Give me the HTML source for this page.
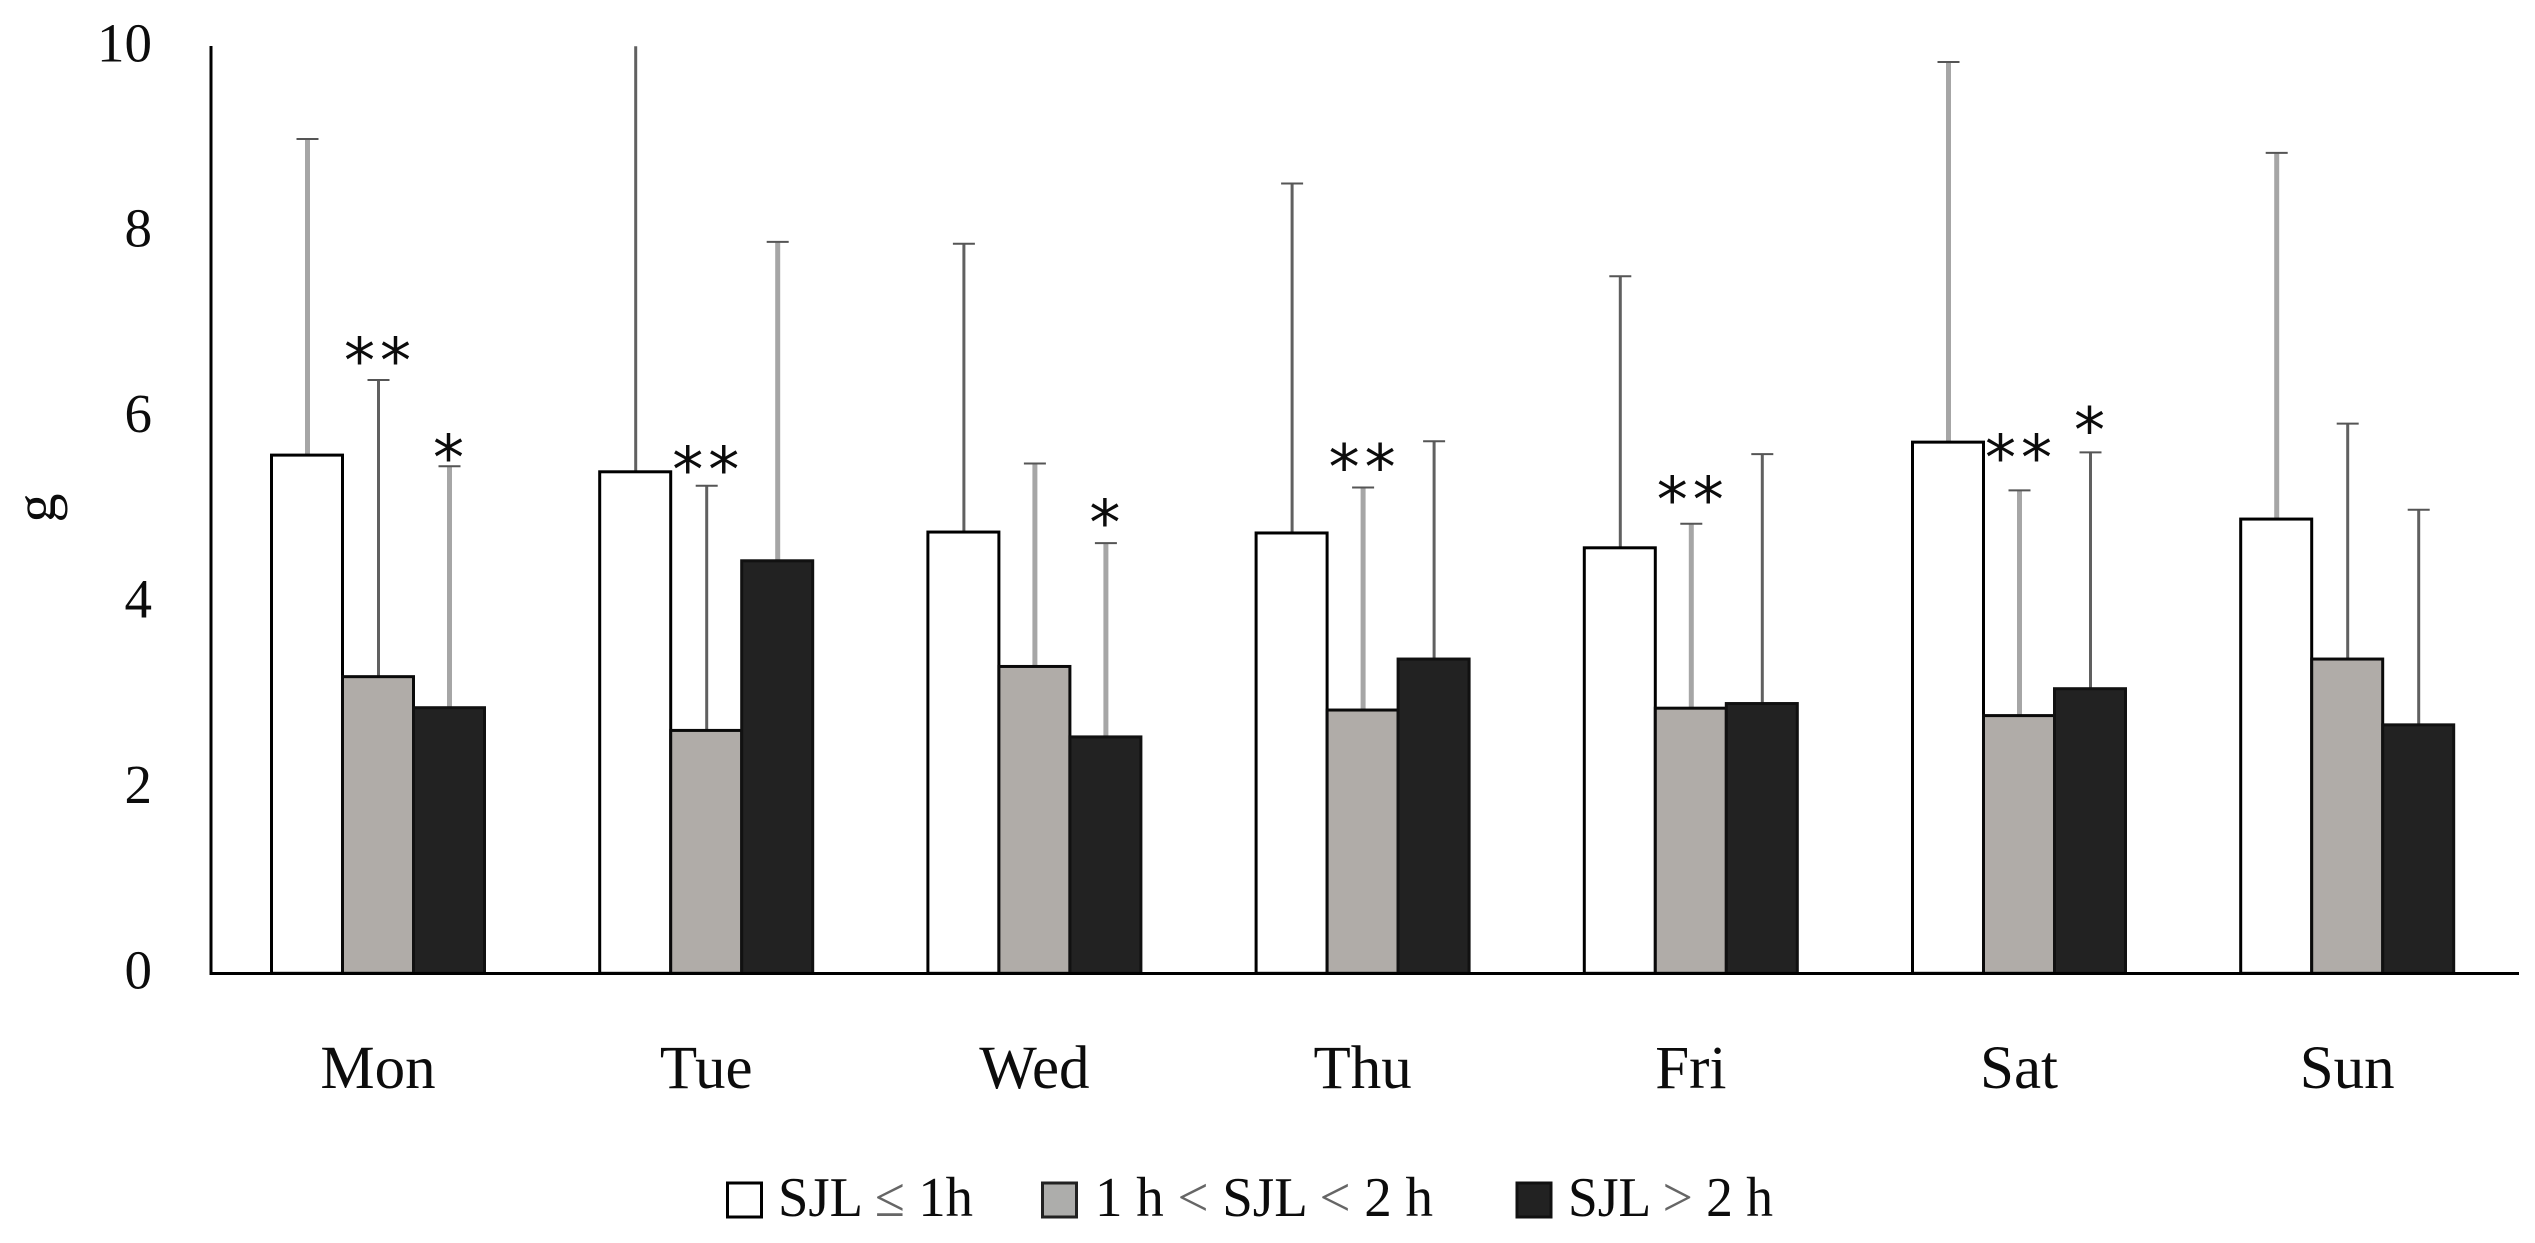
<!DOCTYPE html>
<html lang="en">
<head>
<meta charset="utf-8">
<title>SJL chart</title>
<style>
  html, body { margin: 0; padding: 0; background: #fff; }
  svg { display: block; }
  text { font-family: "Liberation Serif", serif; fill: #0c0c0c; }
</style>
</head>
<body>
<svg id="chart" xmlns="http://www.w3.org/2000/svg" width="2535" height="1243" viewBox="0 0 2535 1243">
  <rect x="0" y="0" width="2535" height="1243" fill="#ffffff"/>
  <g id="y-ticks"></g>
  <text transform="translate(55 508) rotate(-90)" text-anchor="middle" font-size="58">g</text>
  <g id="whiskers"></g>
  <g id="bars"></g>
  <g id="stars"></g>
  <g id="x-labels"></g>
  <line x1="211" y1="46" x2="211" y2="974.5" stroke="#000" stroke-width="3"/>
  <line x1="209.5" y1="973.5" x2="2519" y2="973.5" stroke="#000" stroke-width="3"/>
  <g>
    <g>
      <rect x="727.5" y="1183" width="34" height="34" fill="#fff" stroke="#000" stroke-width="3"/>
      <text x="778" y="1216" font-size="56" textLength="195" lengthAdjust="spacingAndGlyphs">SJL <tspan fill="#666">≤</tspan> 1h</text>
    </g>
    <g>
      <rect x="1042.5" y="1183" width="34" height="34" fill="#adadab" stroke="#222" stroke-width="3"/>
      <text x="1095" y="1216" font-size="56" textLength="338" lengthAdjust="spacingAndGlyphs">1 h <tspan fill="#666">&lt;</tspan> SJL <tspan fill="#666">&lt;</tspan> 2 h</text>
    </g>
    <g>
      <rect x="1517" y="1183" width="34" height="34" fill="#222" stroke="#111" stroke-width="3"/>
      <text x="1568" y="1216" font-size="56" textLength="205" lengthAdjust="spacingAndGlyphs">SJL <tspan fill="#666">&gt;</tspan> 2 h</text>
    </g>
  </g>
</svg>
<script>
const categories = ["Mon", "Tue", "Wed", "Thu", "Fri", "Sat", "Sun"];
const yTicks = [0, 2, 4, 6, 8, 10];
const lowMeans  = [5.59, 5.41, 4.76, 4.75, 4.59, 5.73, 4.90];
const midMeans  = [3.20, 2.62, 3.31, 2.84, 2.86, 2.78, 3.39];
const highMeans = [2.865, 4.45, 2.55, 3.39, 2.91, 3.07, 2.68];
const lowUpper  = [9.00, 10.00, 7.87, 8.52, 7.52, 9.83, 8.85];
const midUpper  = [6.40, 5.26, 5.50, 5.24, 4.85, 5.21, 5.93];
const highUpper = [5.47, 7.89, 4.64, 5.74, 5.60, 5.62, 5.00];
const sigCategory = ["Mon", "Mon", "Tue", "Wed", "Thu", "Fri", "Sat", "Sat"];
const sigSeries   = [1, 2, 1, 2, 1, 1, 1, 2];
const sigLabel    = ["**", "*", "**", "*", "**", "**", "**", "*"];
const sigLevel    = [6.72, 5.67, 5.54, 4.97, 5.57, 5.22, 5.67, 5.97];
const paleWhiskers = ["0-0", "0-2", "1-2", "2-1", "2-2", "3-1", "4-1", "5-0", "5-1", "6-0"];

const means = [lowMeans, midMeans, highMeans];
const uppers = [lowUpper, midUpper, highUpper];
const fills = ["#ffffff", "#b0aca8", "#222222"];
const strokes = ["#000", "#0a0a0a", "#111"];
const NS = "http://www.w3.org/2000/svg";
const yScale = v => 973.3 - v * 92.7;
const xGroup = i => 378 + 328.2 * i;
const xBar = (i, s) => xGroup(i) + (s - 1) * 71;
const barWidth = 71;

function make(tag, parent, attrs) {
  const el = document.createElementNS(NS, tag);
  for (const k in attrs) el.setAttribute(k, attrs[k]);
  parent.appendChild(el);
  return el;
}

const tickGroup = document.getElementById("y-ticks");
yTicks.forEach(v => {
  const t = make("text", tickGroup, { x: 152, y: yScale(v) + 15, "text-anchor": "end", "font-size": 55 });
  
  
  t.textContent = v;
});

const labelGroup = document.getElementById("x-labels");
categories.forEach((c, i) => {
  const t = make("text", labelGroup, { x: xGroup(i), y: 1088, "text-anchor": "middle", "font-size": 61 });
  
  
  t.textContent = c;
});

const whiskerGroup = document.getElementById("whiskers");
const barGroup = document.getElementById("bars");
categories.forEach((c, i) => {
  means.forEach((series, s) => {
    const top = yScale(series[i]);
    const x = xBar(i, s);
    const bar = make("rect", barGroup, {
      x: x - barWidth / 2, y: top, width: barWidth, height: yScale(0) - top,
      fill: fills[s], stroke: strokes[s], "stroke-width": 3
    });
    
    

    const pale = paleWhiskers.includes(i + "-" + s);
    const capY = yScale(uppers[s][i]);
    const stem = make("line", whiskerGroup, {
      x1: x + 0.5, x2: x + 0.5, y1: top, y2: capY,
      stroke: pale ? "#a6a6a6" : "#606060", "stroke-width": pale ? 5 : 3
    });
    
    
    if (uppers[s][i] < 10) {
      const cap = make("line", whiskerGroup, {
        x1: x - 10.5, x2: x + 11.5, y1: capY, y2: capY, stroke: "#555", "stroke-width": 2
      });
      
      
    }
  });
});

const starGroup = document.getElementById("stars");
sigLabel.forEach((label, k) => {
  const i = categories.indexOf(sigCategory[k]);
  const t = make("text", starGroup, {
    x: xBar(i, sigSeries[k]) + 2, y: yScale(sigLevel[k]) + 32, "text-anchor": "middle", "font-size": 62,
    "letter-spacing": 5, style: 'font-family:"DejaVu Sans",sans-serif'
  });
  
  
  t.textContent = label;
});
</script>
</body>
</html>
